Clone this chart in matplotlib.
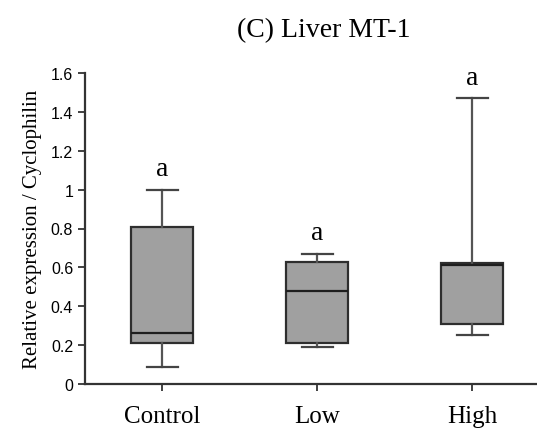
import numpy as np
import matplotlib
matplotlib.use("Agg")
import matplotlib.pyplot as plt

groups = ["Control", "Low", "High"]
whis_lo = [0.09, 0.19, 0.25]
q1 = [0.21, 0.21, 0.31]
med = [0.26, 0.48, 0.61]
q3 = [0.81, 0.63, 0.62]
whis_hi = [1.0, 0.67, 1.47]
letters = ["a", "a", "a"]

stats = []
for i in range(len(groups)):
    stats.append(dict(label=groups[i], whislo=whis_lo[i], q1=q1[i], med=med[i],
                      q3=q3[i], whishi=whis_hi[i], fliers=[]))

fig = plt.figure(figsize=(5.37, 4.35), dpi=100)
ax = fig.add_axes([85/537, 50/435, 451/537, 311/435])

pos = np.arange(1, len(groups) + 1)
ax.bxp(stats, positions=pos, widths=0.4, capwidths=0.2, patch_artist=True,
       showfliers=False,
       boxprops=dict(facecolor="#a0a0a0", edgecolor="#2e2e2e", linewidth=1.6),
       medianprops=dict(color="#1e1e1e", linewidth=1.6),
       whiskerprops=dict(color="#555555", linewidth=1.6),
       capprops=dict(color="#444444", linewidth=1.6))

for p, hi, t in zip(pos, whis_hi, letters):
    ax.text(p, hi + 0.045, t, ha="center", va="bottom", fontsize=20,
            family="Liberation Serif", clip_on=False)

ax.set_xlim(0.5, 3.41)
ax.set_ylim(0, 1.6)
ax.set_yticks([0, 0.2, 0.4, 0.6, 0.8, 1, 1.2, 1.4, 1.6])
ax.set_yticklabels(["0", "0.2", "0.4", "0.6", "0.8", "1", "1.2", "1.4", "1.6"],
                   family="Liberation Sans", fontsize=11.5)
ax.set_xticks(pos)
ax.set_xticklabels(groups, family="Liberation Serif", fontsize=18)
ax.tick_params(axis="both", direction="out", length=5, width=1.3, color="#333333")
ax.tick_params(axis="x", pad=10)
ax.spines["top"].set_visible(False)
ax.spines["right"].set_visible(False)
for s in ["left", "bottom"]:
    ax.spines[s].set_linewidth(1.6)
    ax.spines[s].set_color("#333333")

ax.set_ylabel("Relative expression / Cyclophilin", family="Liberation Serif",
              fontsize=15, labelpad=6)
fig.text(0.603, 0.93, "(C) Liver MT-1", ha="center", va="center",
         family="Liberation Serif", fontsize=20)

fig.savefig("out.png", dpi=100)
